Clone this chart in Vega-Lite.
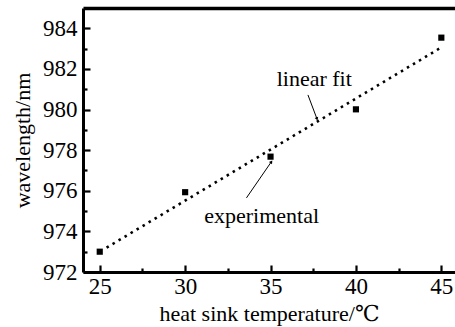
{
  "$schema": "https://vega.github.io/schema/vega-lite/v6.json",
  "width": 372,
  "height": 264,
  "autosize": {"type": "none"},
  "padding": {"left": 83, "top": 8, "right": 0, "bottom": 55},
  "background": "white",
  "config": {
    "view": {"stroke": null},
    "font": "'Liberation Serif', 'Times New Roman', 'DejaVu Serif', serif",
    "axis": {
      "labelFont": "'Liberation Serif', 'Times New Roman', 'DejaVu Serif', serif",
      "titleFont": "'Liberation Serif', 'Times New Roman', 'DejaVu Serif', serif",
      "labelColor": "black",
      "titleColor": "black",
      "domainColor": "black",
      "tickColor": "black",
      "labelFontSize": 23,
      "titleFontSize": 22,
      "titleFontWeight": "normal",
      "grid": false,
      "domainWidth": 3,
      "tickWidth": 2.2
    }
  },
  "datasets": {
    "points": [
      {"temp": 25, "wl": 973.0},
      {"temp": 30, "wl": 975.93},
      {"temp": 35, "wl": 977.68},
      {"temp": 40, "wl": 980.01},
      {"temp": 45, "wl": 983.54}
    ],
    "fit": [
      {"temp": 25.4, "wl": 973.2},
      {"temp": 45.0, "wl": 983.06}
    ],
    "labels": [
      {"text": "linear fit", "temp": 37.56, "wl": 981.5},
      {"text": "experimental", "temp": 34.48, "wl": 974.76}
    ],
    "arrows": [
      {"name": "fit", "temp": 37.19, "wl": 980.72, "temp2": 37.72, "wl2": 979.54},
      {"name": "exp", "temp": 33.59, "wl": 975.65, "temp2": 35.05, "wl2": 977.43}
    ]
  },
  "resolve": {"axis": {"x": "independent", "y": "independent"}},
  "layer": [
    {
      "data": {"name": "points"},
      "mark": {"type": "point", "shape": "square", "filled": true, "color": "black", "size": 38, "opacity": 1},
      "encoding": {
        "x": {"field": "temp", "type": "quantitative",
          "scale": {"domain": [24.02, 45.8], "nice": false, "zero": false},
          "axis": {"orient": "bottom", "values": [25, 30, 35, 40, 45], "tickSize": -7, "labelPadding": 10, "title": "heat sink temperature/℃", "titlePadding": 5}},
        "y": {"field": "wl", "type": "quantitative",
          "scale": {"domain": [972, 985], "nice": false, "zero": false},
          "axis": {"orient": "left", "values": [972, 974, 976, 978, 980, 982, 984], "tickSize": -7, "labelPadding": 13, "title": "wavelength/nm", "titlePadding": 8}}
      }
    },
    {
      "data": {"name": "fit"},
      "mark": {"type": "line", "color": "black", "strokeWidth": 2.6, "strokeDash": [2.5, 4.5]},
      "encoding": {
        "x": {"field": "temp", "type": "quantitative",
          "axis": {"orient": "bottom", "values": [27.5, 32.5, 37.5, 42.5], "tickSize": -4, "labels": false, "domain": false, "title": null}},
        "y": {"field": "wl", "type": "quantitative",
          "axis": {"orient": "left", "values": [973, 975, 977, 979, 981, 983], "tickSize": -4, "labels": false, "domain": false, "title": null}}
      }
    },
    {
      "data": {"name": "labels"},
      "mark": {"type": "text", "font": "'Liberation Serif', 'Times New Roman', 'DejaVu Serif', serif", "fontSize": 22, "color": "black", "align": "center", "baseline": "middle"},
      "encoding": {
        "x": {"field": "temp", "type": "quantitative",
          "axis": {"orient": "top", "labels": false, "ticks": false, "title": null, "domainWidth": 3.5}},
        "y": {"field": "wl", "type": "quantitative", "axis": null},
        "text": {"field": "text"}
      }
    },
    {
      "data": {"name": "arrows"},
      "mark": {"type": "rule", "color": "black", "strokeWidth": 1},
      "encoding": {
        "x": {"field": "temp", "type": "quantitative", "axis": null},
        "y": {"field": "wl", "type": "quantitative", "axis": null},
        "x2": {"field": "temp2"},
        "y2": {"field": "wl2"}
      }
    },
    {
      "data": {"name": "arrows"},
      "transform": [{"filter": "datum.name === 'fit'"}],
      "mark": {"type": "point", "shape": "triangle-up", "filled": true, "color": "black", "size": 14, "angle": 159, "opacity": 1},
      "encoding": {
        "x": {"field": "temp2", "type": "quantitative", "axis": null},
        "y": {"field": "wl2", "type": "quantitative", "axis": null}
      }
    },
    {
      "data": {"name": "arrows"},
      "transform": [{"filter": "datum.name === 'exp'"}],
      "mark": {"type": "point", "shape": "triangle-up", "filled": true, "color": "black", "size": 14, "angle": 35, "opacity": 1},
      "encoding": {
        "x": {"field": "temp2", "type": "quantitative", "axis": null},
        "y": {"field": "wl2", "type": "quantitative", "axis": null}
      }
    }
  ]
}
